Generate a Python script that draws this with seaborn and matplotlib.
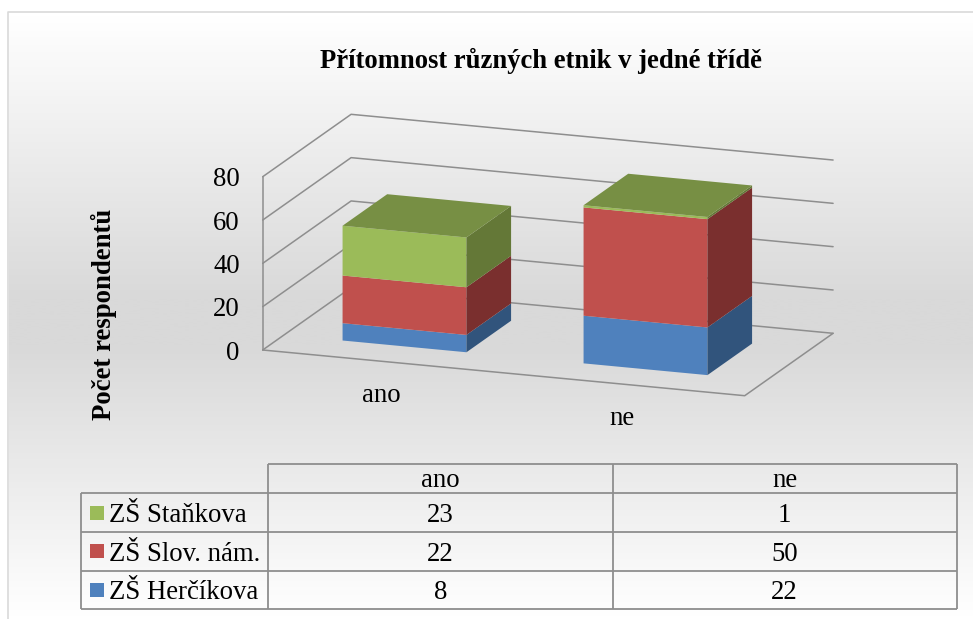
import numpy as np
import seaborn as sns
import matplotlib
matplotlib.use('Agg')
import matplotlib.pyplot as plt
from matplotlib.colors import LinearSegmentedColormap
from matplotlib.patches import Polygon
from matplotlib.transforms import Affine2D

# Values
categories = ['ano', 'ne']
schools = ['ZŠ Staňkova', 'ZŠ Slov. nám.', 'ZŠ Herčíkova']
stankova = [23, 1]
slov_nam = [22, 50]
hercikova = [8, 22]
y_ticks = [0, 20, 40, 60, 80]

# front, side, top shades
colors = {'ZŠ Herčíkova': ('#4f81bd', '#31547c', '#3f6797'),
          'ZŠ Slov. nám.': ('#c0504d', '#7a2f2e', '#9a403e'),
          'ZŠ Staňkova': ('#9bbb59', '#647837', '#778f44')}
line_col = '#8e8e8e'

sns.set_theme(style='white')
plt.rcParams['font.family'] = ['Liberation Serif', 'DejaVu Serif']
plt.rcParams['text.color'] = 'black'

fig = plt.figure(figsize=(9.73, 6.19), dpi=100)
ax = fig.add_axes([0, 0, 1, 1])

# Oblique projection: (category, value, depth) -> image pixels
X0, Y0 = 262.7, 350.0
CAT_DX, CAT_DY = 241.0, 22.85
DEP_DX, DEP_DY = 88.4, -62.4
VAL_DY = -2.166
BAR_W = 0.514
D_FRONT, D_BACK = 0.241, 0.746


def px(c, v, d):
    return (X0 + (c + 0.5) * CAT_DX + d * DEP_DX,
            Y0 + (c + 0.5) * CAT_DY + v * VAL_DY + d * DEP_DY)


# Stacked bars, front faces from seaborn
bottom = np.zeros(2)
stack = [('ZŠ Herčíkova', hercikova), ('ZŠ Slov. nám.', slov_nam), ('ZŠ Staňkova', stankova)]
for name, vals in stack:
    sns.barplot(x=categories, y=vals, bottom=bottom, color=colors[name][0], saturation=1,
                width=BAR_W, linewidth=0, ax=ax, zorder=3)
    bottom = bottom + np.array(vals)
bars = list(ax.patches)

# Background
cmap = LinearSegmentedColormap.from_list('bg', [(0, '#ffffff'), (0.47, '#d9d9d9'), (0.55, '#d9d9d9'), (1, '#ffffff')])
grad = np.linspace(0, 1, 300).reshape(-1, 1)
ax.imshow(grad, cmap=cmap, aspect='auto', extent=(9, 973, 619, 13), zorder=0)
ax.plot([8, 8, 973], [619, 12, 12], color='#d9d9d9', lw=1.2, zorder=1)

ax.set_xlim(0, 973)
ax.set_ylim(619, 0)
ax.set_axis_off()

front = Affine2D.from_values(CAT_DX, CAT_DY, 0, VAL_DY,
                             X0 + 0.5 * CAT_DX + D_FRONT * DEP_DX,
                             Y0 + 0.5 * CAT_DY + D_FRONT * DEP_DY) + ax.transData
for i, bar in enumerate(bars):
    bar.set_transform(front)
    name = stack[i // 2][0]
    x1 = bar.get_x() + bar.get_width()
    x0 = bar.get_x()
    v0 = bar.get_y()
    v1 = v0 + bar.get_height()
    side = [px(x1, v0, D_FRONT), px(x1, v1, D_FRONT), px(x1, v1, D_BACK), px(x1, v0, D_BACK)]
    ax.add_patch(Polygon(side, closed=True, color=colors[name][1], lw=0, zorder=3))
    # only the last segment shows its top
    if i // 2 == len(stack) - 1:
        top = [px(x0, v1, D_FRONT), px(x1, v1, D_FRONT), px(x1, v1, D_BACK), px(x0, v1, D_BACK)]
        ax.add_patch(Polygon(top, closed=True, color=colors[name][2], lw=0, zorder=3))

# Walls and floor
for v in y_ticks:
    pts = np.array([px(-0.5, v, 0), px(-0.5, v, 1), px(1.5, v, 1)])
    ax.plot(pts[:, 0], pts[:, 1], color=line_col, lw=1.1, zorder=2)
    lx, ly = px(-0.5, v, 0)
    ax.text(lx - 23, ly + 3, str(v), ha='right', va='center', fontsize=19.3)
pts = np.array([px(-0.5, 0, 0), px(1.5, 0, 0), px(1.5, 0, 1)])
ax.plot(pts[:, 0], pts[:, 1], color=line_col, lw=1.1, zorder=2)
pts = np.array([px(-0.5, 0, 0), px(-0.5, y_ticks[-1], 0)])
ax.plot(pts[:, 0], pts[:, 1], color=line_col, lw=1.1, zorder=2)

for i, c in enumerate(categories):
    lx, ly = px(i, 0, 0)
    ax.text(lx - 2, ly + 34.5, c, ha='center', va='center', fontsize=19.3)

ax.text(541, 60.5, 'Přítomnost různých etnik v jedné třídě', ha='center', va='center',
        fontsize=19.2, fontweight='bold')
ax.text(104, 314, 'Počet respondentů', rotation=90, ha='center', va='center',
        fontsize=19.3, fontweight='bold')

# Data table
col_x = [80.7, 268.3, 612.7, 956.7]
row_y = [464, 493.3, 531.7, 570.7, 609]
ax.hlines(row_y[0], col_x[1], col_x[3], color=line_col, lw=1.3, zorder=2)
ax.hlines(row_y[1:], col_x[0], col_x[3], color=line_col, lw=1.3, zorder=2)
ax.vlines(col_x[0], row_y[1], row_y[4], color=line_col, lw=1.3, zorder=2)
ax.vlines(col_x[1:], row_y[0], row_y[4], color=line_col, lw=1.3, zorder=2)

for j, c in enumerate(categories):
    ax.text((col_x[j + 1] + col_x[j + 2]) / 2, 480.5, c, ha='center', va='center', fontsize=19.3)
rows = [stankova, slov_nam, hercikova]
for i, name in enumerate(schools):
    yc = (row_y[i + 1] + row_y[i + 2]) / 2
    ax.add_patch(plt.Rectangle((90, yc - 7), 13.7, 14, color=colors[name][0], lw=0, zorder=3))
    ax.text(109, yc + 3, name, ha='left', va='center', fontsize=19.3)
    for j, val in enumerate(rows[i]):
        ax.text((col_x[j + 1] + col_x[j + 2]) / 2, yc + 3, str(val), ha='center', va='center', fontsize=19.3)

fig.savefig('out.png', dpi=100)
